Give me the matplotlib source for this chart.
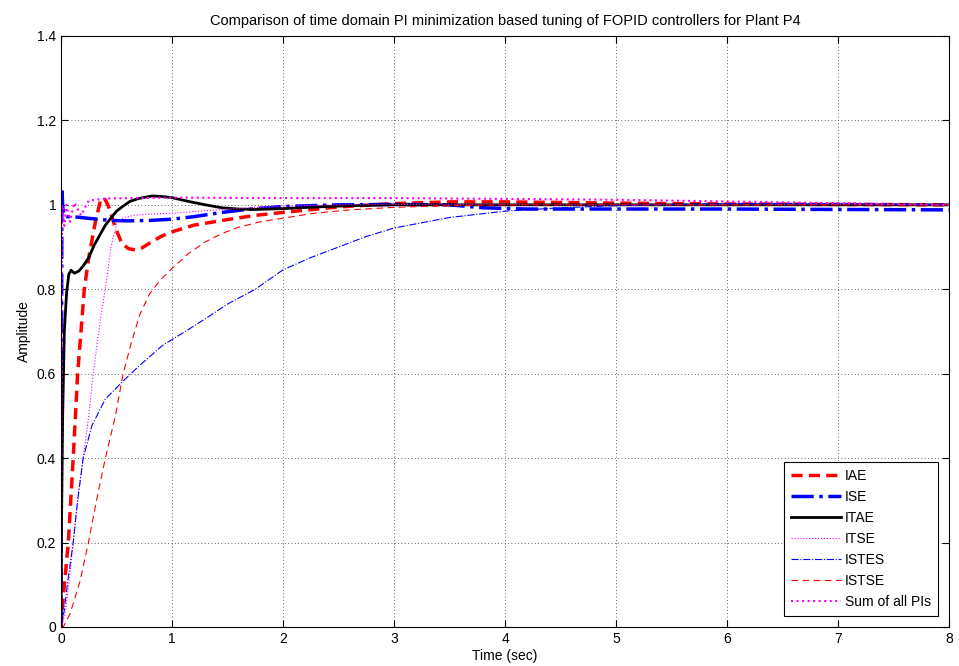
import matplotlib
matplotlib.use("Agg")
import matplotlib.pyplot as plt

# step responses (time in sec, amplitude)
t_iae = [0, 0.02, 0.066, 0.11, 0.15, 0.21, 0.25, 0.31, 0.36, 0.40, 0.43, 0.49, 0.55, 0.61,
         0.67, 0.73, 0.79, 0.9, 1.0, 1.2, 1.5, 1.75, 2.0, 2.5, 3.0, 3.5, 4.0, 5.0, 6.0, 7.0, 8.0]
y_iae = [0, 0.07, 0.2, 0.4, 0.6, 0.8, 0.875, 0.96, 1.015, 1.012, 0.995, 0.945, 0.908, 0.896,
         0.893, 0.898, 0.908, 0.925, 0.936, 0.952, 0.965, 0.975, 0.982, 0.995, 1.003, 1.007,
         1.007, 1.004, 1.002, 1.001, 1.0]

t_ise = [0, 0.004, 0.008, 0.015, 0.025, 0.05, 0.1, 0.25, 0.45, 0.6, 0.8, 1.0, 1.2, 1.45, 1.7,
         2.0, 2.5, 3.0, 3.5, 3.8, 4.2, 5.0, 6.0, 7.0, 8.0]
y_ise = [0, 0.5, 1.04, 1.0, 0.975, 0.972, 0.972, 0.968, 0.963, 0.962, 0.963, 0.966, 0.972,
         0.982, 0.99, 0.996, 1.0, 1.001, 1.0, 0.993, 0.99, 0.99, 0.99, 0.989, 0.988]

t_itae = [0, 0.005, 0.015, 0.03, 0.05, 0.07, 0.09, 0.12, 0.16, 0.2, 0.25, 0.3, 0.4, 0.5, 0.55,
          0.62, 0.7, 0.82, 0.9, 1.0, 1.15, 1.3, 1.45, 1.6, 1.75, 2.0, 2.3, 2.6, 3.0, 4.0, 5.0,
          6.0, 7.0, 8.0]
y_itae = [0, 0.25, 0.5, 0.7, 0.79, 0.835, 0.845, 0.838, 0.843, 0.855, 0.875, 0.905, 0.952,
          0.985, 0.995, 1.008, 1.015, 1.021, 1.02, 1.017, 1.008, 1.0, 0.993, 0.99, 0.989,
          0.991, 0.995, 0.998, 1.0, 1.0, 1.0, 1.0, 1.0, 1.0]

t_itse = [0, 0.036, 0.07, 0.11, 0.15, 0.2, 0.25, 0.29, 0.35, 0.41, 0.45, 0.5, 0.55, 0.65, 0.8,
          1.0, 1.2, 1.5, 2.0, 2.5, 3.0, 4.0, 5.0, 6.0, 7.0, 8.0]
y_itse = [0, 0.03, 0.1, 0.2, 0.3, 0.4, 0.5, 0.6, 0.72, 0.82, 0.9, 0.955, 0.968, 0.975, 0.978,
          0.98, 0.984, 0.99, 0.997, 1.0, 1.001, 1.0, 1.0, 1.0, 1.0, 1.0]

t_istes = [0, 0.03, 0.06, 0.11, 0.15, 0.2, 0.28, 0.4, 0.55, 0.71, 0.92, 1.12, 1.3, 1.5, 1.75,
           2.0, 2.25, 2.5, 2.75, 3.0, 3.5, 4.0, 4.5, 5.0, 6.0, 7.0, 8.0]
y_istes = [0, 0.04, 0.107, 0.2, 0.3, 0.4, 0.478, 0.54, 0.58, 0.62, 0.668, 0.7, 0.73, 0.765,
           0.80, 0.846, 0.875, 0.9, 0.925, 0.945, 0.97, 0.985, 0.993, 0.998, 1.003, 1.003, 1.0]

t_istse = [0, 0.02, 0.08, 0.17, 0.247, 0.32, 0.40, 0.49, 0.56, 0.63, 0.71, 0.8, 0.895, 1.0,
           1.15, 1.3, 1.45, 1.6, 1.8, 2.04, 2.28, 2.6, 3.0, 3.5, 4.0, 5.0, 6.0, 7.0, 8.0]
y_istse = [0, 0.0, 0.03, 0.107, 0.2, 0.3, 0.4, 0.5, 0.6, 0.67, 0.74, 0.79, 0.822, 0.849,
           0.885, 0.912, 0.932, 0.947, 0.96, 0.97, 0.98, 0.988, 0.994, 0.998, 1.0, 1.0, 1.0,
           1.0, 1.0]

t_sum = [0, 0.004, 0.01, 0.03, 0.05, 0.08, 0.12, 0.18, 0.25, 0.4, 1.0, 2.0, 3.0, 4.0, 5.0,
         6.0, 7.0, 8.0]
y_sum = [0, 0.5, 1.0, 0.95, 1.0, 0.96, 1.005, 0.975, 1.01, 1.015, 1.017, 1.016, 1.016, 1.014,
         1.012, 1.008, 1.004, 1.0]

labels = ["IAE", "ISE", "ITAE", "ITSE", "ISTES", "ISTSE", "Sum of all PIs"]
x_ticks = [0, 1, 2, 3, 4, 5, 6, 7, 8]
y_ticks = [0, 0.2, 0.4, 0.6, 0.8, 1, 1.2, 1.4]


def main():
    plt.rcParams['font.family'] = ['Liberation Sans', 'DejaVu Sans']
    fig = plt.figure(figsize=(9.59, 6.66), dpi=100)
    ax = fig.add_axes([0.0636, 0.0586, 0.926, 0.8874])

    ax.plot(t_iae, y_iae, color='red', linestyle=(0, (3.2, 1.8)), linewidth=2.5, label=labels[0])
    ax.plot(t_ise, y_ise, color='blue', linestyle='-.', linewidth=2.5, label=labels[1])
    ax.plot(t_itae, y_itae, color='black', linestyle='-', linewidth=2, label=labels[2])
    ax.plot(t_itse, y_itse, color='magenta', linestyle=':', linewidth=0.8, label=labels[3])
    ax.plot(t_istes, y_istes, color='blue', linestyle='-.', linewidth=0.8, label=labels[4])
    ax.plot(t_istse, y_istse, color='red', linestyle=(0, (6, 4)), linewidth=0.8, label=labels[5])
    ax.plot(t_sum, y_sum, color='magenta', linestyle=':', linewidth=1.5, label=labels[6])

    ax.set_xlim(0, 8)
    ax.set_ylim(0, 1.4)
    ax.set_xticks(x_ticks)
    ax.set_yticks(y_ticks)
    ax.set_xticklabels([str(v) for v in x_ticks])
    ax.set_yticklabels(['0', '0.2', '0.4', '0.6', '0.8', '1', '1.2', '1.4'])
    ax.tick_params(direction='in', top=True, right=True, labelsize=10, length=5)
    ax.grid(True, color='#333333', linestyle=(0, (1, 3)), linewidth=0.6)

    ax.set_title("Comparison of time domain PI minimization based tuning of FOPID controllers for Plant P4",
                 fontsize=10.5, pad=8)
    ax.set_xlabel("Time (sec)", fontsize=10, labelpad=2)
    ax.set_ylabel("Amplitude", fontsize=10, labelpad=4)

    leg = ax.legend(loc='lower right', fontsize=10, handlelength=3.6, fancybox=False,
                    framealpha=1, edgecolor='black', borderaxespad=0.8, labelspacing=0.5,
                    handletextpad=0.3, borderpad=0.5)
    leg.get_frame().set_linewidth(0.8)

    fig.savefig("out.png", dpi=100)
    plt.close(fig)


if __name__ == "__main__":
    main()
